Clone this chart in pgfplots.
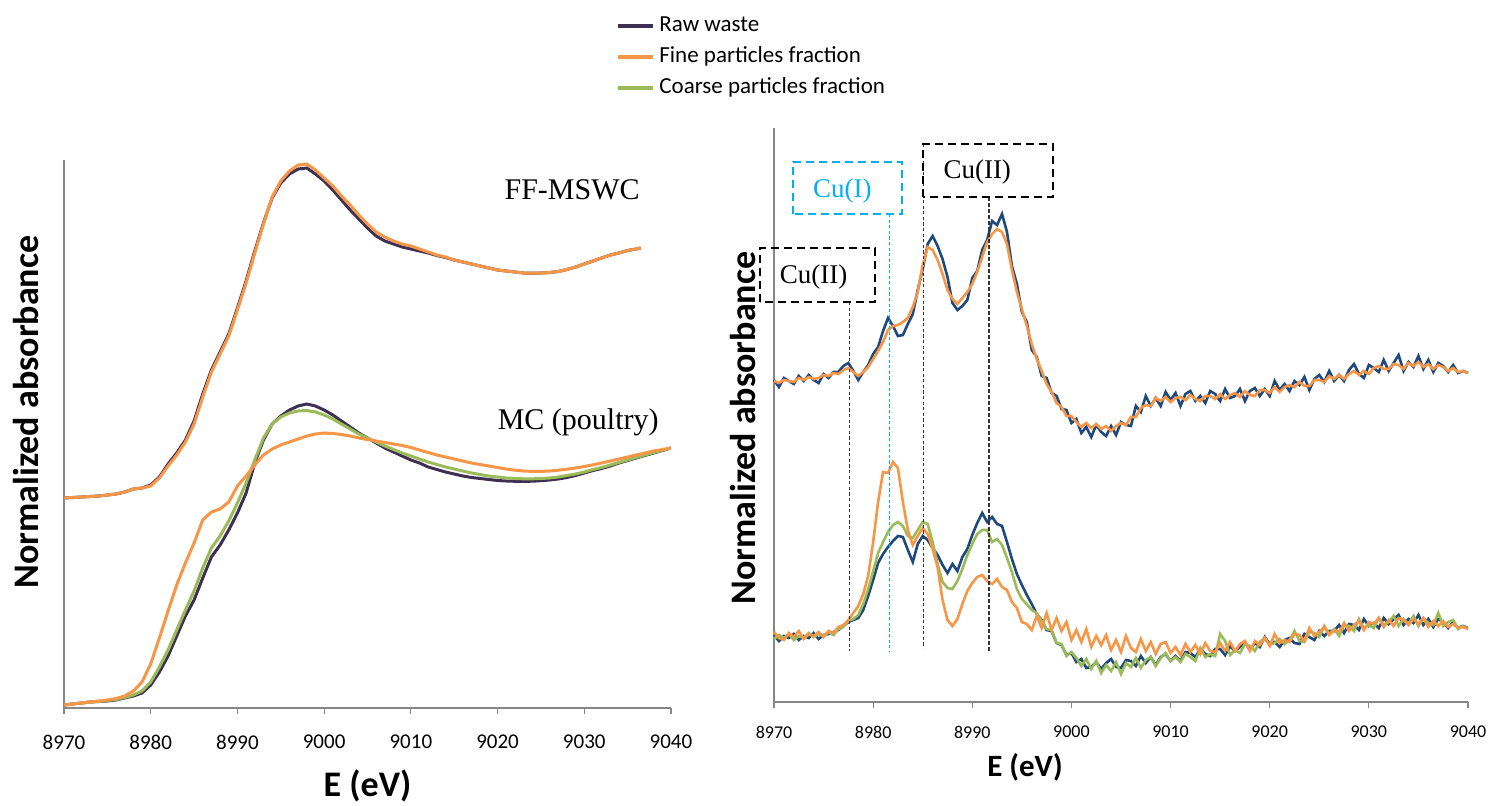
\documentclass[border=0pt]{standalone}
\usepackage{fontspec}
\setmainfont{Carlito}
\newfontfamily\tnr{Liberation Serif}
\usepackage{pgfplots}
\pgfplotsset{compat=1.18}
\usepackage{pgfplotstable}

\definecolor{rawL}{RGB}{62,48,83}
\definecolor{rawR}{RGB}{31,73,125}
\definecolor{fine}{RGB}{247,150,70}
\definecolor{coarse}{RGB}{155,187,89}
\definecolor{cuone}{RGB}{0,176,240}
\definecolor{axgray}{RGB}{134,134,134}

% left panel: normalized XANES (y in picture units)
\pgfplotstableread{
E FFR FFF MCR MCF MCC
8970 210 210 3 3 3
8971 210.5 210.5 4 4 4
8972 211 211 5 5 5
8973 211.5 211.5 6 6 6
8974 212 212 6.5 7 6.5
8975 213 213 7 8 7.5
8976 214 214 8 9.5 8.5
8977 216 216 10 12 10.5
8978 219 219 12 17 13
8979 220 220 15 26 17
8980 223 222 23 44 26
8981 231 230 36 70 41
8982 244 242 52 97 58
8983 255 253 72 123 78
8984 268 266 92 145 98
8985 287 284 108 165 117
8986 314 311 130 188 140
8987 338 336 151 196 160
8988 356 354 163 199 172
8989 374 372 178 206 187
8990 400 398 195 222 205
8991 427 425 215 232 225
8992 457 455 245 243 248
8993 485 484 268 253 270
8994 510 511 284 259 284
8995 525 527 292 263 291
8996 534 537 298 266 295
8997 539 543 302 269 297
8998 540 544 304 272 297.5
8999 534 538 302 274 296
9000 527 530 298 275 293
9001 518 522 293 274.5 289
9002 508 512 287 273.5 284
9003 498 503 281 272 279
9004 489 493 275 270 274
9005 480 484 270 268.5 270
9006 472 476 265 267 266
9007 467 471 260 265.5 262
9008 464 467 256 264 258.5
9009 461 464 252 262.5 255
9010 459 462 248 260.5 252
9011 457 459 245 258 249
9012 455 456 241 255.5 246
9013 452.5 453 238.5 253 243.5
9014 450.5 451 236 251 241
9015 448 448 234 249 239
9016 446 446 232 247 237
9017 444 444 230.5 245 235
9018 442 442 229.5 243.5 233.5
9019 440 440 228.5 242 232
9020 438 438 227.5 240.5 231
9021 437 437 227 239 230
9022 436 436 226.7 237.8 229.5
9023 435 435 226.6 237 229.2
9024 434.8 434.8 226.8 236.6 229.2
9025 435 435 227.3 236.6 229.5
9026 435.5 435.5 228 237 230
9027 436.5 436.5 229 237.8 231
9028 438.5 438.5 230.5 238.8 232.5
9029 441 441 232.5 240 234
9030 444 444 235 241.5 236
9031 447 447 237.5 243.2 238.5
9032 450 450 239.5 245 240.5
9033 453 453 242 247 243
9034 455 455 245 249 245.5
9035 457.5 457.5 247.5 251 248
9036 459 459 250 253 250.5
9036.5 460 460 251.3 254 251.7
9037 nan nan 252.6 255 253
9038 nan nan 255 257 255.5
9039 nan nan 257.5 258.5 257.7
9040 nan nan 260 260 260
}\xanes

% right panel: first derivative (y in picture units)
\pgfplotstableread{
E UR UF LR LF LC
8970.0 322 321 67 70 63
8970.5 315 319 61 64 67
8971.0 324 322 66 62 64
8971.5 321 321 64 69 68
8972.0 318 320 68 65 62
8972.5 326 324 62 71 66
8973.0 321 322 66 63 64
8973.5 327 325 64 68 69
8974.0 322 323 69 66 65
8974.5 319 324 63 70 68
8975.0 328 327 67 65 66
8975.5 324 326 68 71 70
8976.0 330 329 70 69 67
8976.5 330 328 72 75 73
8977.0 336 332 76 77 75
8977.5 339 334 80 82 81
8978.0 331 330 82 89 83
8978.5 322 326 84 96 87
8979.0 330 330 92 108 98
8979.5 337 335 106 126 113
8980.0 348 343 122 160 131
8980.5 355 351 139 200 149
8981.0 371 360 148 230 160
8981.5 384 372 155 229 170
8982.0 376 376 161 240 177
8982.5 366 377 166 234 180
8983.0 367 380 165 200 176
8983.5 378 384 152 172 166
8984.0 388 395 140 157 164
8984.5 412 410 158 166 172
8985.0 433 437 166 174 180
8985.5 458 455 162 168 178
8986.0 466 452 154 153 160
8986.5 456 442 147 135 138
8987.0 443 428 137 102 120
8987.5 425 412 129 82 114
8988.0 399 403 138 76 113
8988.5 392 398 131 83 121
8989.0 396 404 145 98 133
8989.5 402 410 153 111 147
8990.0 424 418 167 119 158
8990.5 431 430 179 125 168
8991.0 452 445 189 127 172
8991.5 462 460 180 121 172
8992.0 481 468 185 118 160
8992.5 477 473 178 123 163
8993.0 488 470 176 115 157
8993.5 470 458 160 112 144
8994.0 436 432 143 100 130
8994.5 418 410 128 94 113
8995.0 390 393 117 80 103
8995.5 380 376 107 78 98
8996.0 352 358 98 72 92
8996.5 345 343 88 86 89
8997.0 326 331 82 74 81
8997.5 324 318 72 89 73
8998.0 309 310 71 72 72
8998.5 306 299 59 84 59
8999.0 293 295 57 71 58
8999.5 292 286 47 80 46
9000.0 279 286 49 62 50
9000.5 283 280 40 72 44
9001.0 269 275 43 60 36
9001.5 275 279 34 73 43
9002.0 265 274 35 55 33
9002.5 277 278 40 66 41
9003.0 270 273 33 57 29
9003.5 266 276 39 67 37
9004.0 276 271 43 52 31
9004.5 267 276 35 62 40
9005.0 280 279 34 50 28
9005.5 277 277 42 66 39
9006.0 276 285 41 54 35
9006.5 296 285 36 50 44
9007.0 290 294 46 63 34
9007.5 306 297 39 51 42
9008.0 296 296 45 60 45
9008.5 304 304 37 48 36
9009.0 296 301 45 58 44
9009.5 310 305 48 60 49
9010.0 302 300 41 49 41
9010.5 309 304 46 55 45
9011.0 296 305 41 47 40
9011.5 308 302 50 58 48
9012.0 311 307 49 50 45
9012.5 301 303 45 57 41
9013.0 306 301 53 48 54
9013.5 299 306 48 59 45
9014.0 311 306 46 51 48
9014.5 308 303 53 50 46
9015.0 301 308 53 59 68
9015.5 313 303 47 51 61
9016.0 304 307 56 60 47
9016.5 306 309 51 51 52
9017.0 313 305 55 58 49
9017.5 301 311 60 61 58
9018.0 311 307 52 51 56
9018.5 314 306 59 61 51
9019.0 306 312 55 57 60
9019.5 313 312 65 64 64
9020.0 306 309 58 56 57
9020.5 321 315 60 68 59
9021.0 312 310 55 59 63
9021.5 318 315 62 62 58
9022.0 311 317 64 60 62
9022.5 321 315 59 68 71
9023.0 317 320 58 67 61
9023.5 325 316 68 61 60
9024.0 312 316 65 74 70
9024.5 323 322 62 66 69
9025.0 327 322 71 70 65
9025.5 320 320 66 75 76
9026.0 331 326 71 67 68
9026.5 321 323 71 72 73
9027.0 327 327 77 70 66
9027.5 321 323 69 79 77
9028.0 332 328 78 71 76
9028.5 338 331 77 77 71
9029.0 328 327 72 81 83
9029.5 324 331 83 72 74
9030.0 337 328 76 80 77
9030.5 334 334 79 78 74
9031.0 330 336 74 84 84
9031.5 342 333 84 75 77
9032.0 331 333 78 82 80
9032.5 339 338 83 76 86
9033.0 347 337 87 84 76
9033.5 331 333 77 82 83
9034.0 340 339 83 77 78
9034.5 335 336 79 83 86
9035.0 346 340 87 78 76
9035.5 333 335 77 84 84
9036.0 342 338 83 75 79
9036.5 330 333 75 81 77
9037.0 339 337 83 76 89
9037.5 336 335 80 81 76
9038.0 330 331 74 75 80
9038.5 337 334 80 78 82
9039.0 329 330 74 74 73
9039.5 331 331 76 75 76
9040.0 329 329 74 73 73
}\deriv

\pgfplotsset{
  panel/.style={
    scale only axis,
    xmin=8970, xmax=9040, ymin=0,
    axis lines*=left,
    axis line style={draw=axgray, line width=0.6pt},
    xtick={8970,8980,...,9040},
    xticklabels={8970,8980,8990,9000,9010,9020,9030,9040},
    ytick=\empty,
    tick align=outside,
    major tick length=3pt,
    tick style={draw=axgray, line width=0.6pt},
    xticklabel style={anchor=center},
  },
}

\begin{document}
\begin{tikzpicture}
\useasboundingbox (-32pt,-48.5pt) rectangle (713pt,354pt);

\begin{axis}[panel,
  at={(0pt,0pt)},
  width=303.5pt, height=274pt, ymax=548,
  xticklabel style={font=\fontsize{10.5}{12}\selectfont, yshift=-14pt},
  xlabel={\bfseries E (eV)},
  xlabel style={font=\fontsize{18}{20}\selectfont, at={(rel axis cs:0.5,0)}, anchor=center, yshift=-39pt},
  ylabel={\bfseries Normalized absorbance},
  ylabel style={font=\fontsize{18}{20}\selectfont, at={(rel axis cs:0,0.54)}, anchor=center, yshift=19pt},
  legend style={at={(rel axis cs:0.9094,1.188)}, anchor=west, draw=none, fill=none,
    font=\fontsize{11.5}{13}\selectfont, inner sep=0pt, row sep=5pt,
    nodes={inner sep=0pt, text height=8pt, text depth=2.5pt},
    /tikz/every odd column/.append style={column sep=2pt}},
  legend cell align=left,
  legend image code/.code={\draw[#1, line width=2pt] (0pt,0pt) -- (17.5pt,0pt);},
]
\addlegendimage{rawL}
\addlegendimage{fine}
\addlegendimage{coarse}
\legend{Raw waste, Fine particles fraction, Coarse particles fraction}
\addplot[rawL, line width=1.5pt, forget plot] table[x=E, y=FFR] {\xanes};
\addplot[fine, line width=1.5pt, forget plot] table[x=E, y=FFF] {\xanes};
\addplot[rawL, line width=1.5pt, forget plot] table[x=E, y=MCR] {\xanes};
\addplot[coarse, line width=1.5pt, forget plot] table[x=E, y=MCC] {\xanes};
\addplot[fine, line width=1.5pt, forget plot] table[x=E, y=MCF] {\xanes};
\node[font=\tnr\fontsize{15}{18}\selectfont] at (axis cs:9028.6,518) {FF-MSWC};
\node[font=\tnr\fontsize{15}{18}\selectfont] at (axis cs:9029.3,286) {MC (poultry)};
\end{axis}

\begin{axis}[panel,
  at={(355pt,3pt)},
  width=347pt, height=287pt, ymax=574,
  clip=false,
  xticklabel style={font=\fontsize{9}{11}\selectfont, yshift=-12pt},
  xlabel={\bfseries E (eV)},
  xlabel style={font=\fontsize{15.5}{18}\selectfont, at={(rel axis cs:0.3617,0)}, anchor=center, yshift=-32.5pt},
  ylabel={\bfseries Normalized absorbance},
  ylabel style={font=\fontsize{18}{20}\selectfont, at={(rel axis cs:0,0.477)}, anchor=center, yshift=15.5pt},
]
\addplot[rawR, line width=1.3pt] table[x=E, y=UR] {\deriv};
\addplot[fine, line width=1.3pt] table[x=E, y=UF] {\deriv};
\addplot[rawR, line width=1.3pt] table[x=E, y=LR] {\deriv};
\addplot[coarse, line width=1.3pt] table[x=E, y=LC] {\deriv};
\addplot[fine, line width=1.3pt] table[x=E, y=LF] {\deriv};
% reference energies
\draw[black!80, line width=0.5pt, dash pattern=on 1.6pt off 1.2pt] (axis cs:8977.6,400) -- (axis cs:8977.6,51);
\draw[cuone, line width=0.5pt, dash pattern=on 1.6pt off 1.2pt] (axis cs:8981.6,488) -- (axis cs:8981.6,51);
\draw[black!80, line width=0.5pt, dash pattern=on 1.6pt off 1.2pt] (axis cs:8985.05,558) -- (axis cs:8985.05,54);
\draw[black!80, line width=0.7pt, dash pattern=on 1.8pt off 1.2pt] (axis cs:8991.7,505) -- (axis cs:8991.7,51);
% boxes
\draw[black, line width=1pt, dash pattern=on 4pt off 2.5pt] (axis cs:8968.59,400) rectangle (axis cs:8980.19,454);
\node[font=\tnr\fontsize{13.5}{16}\selectfont] at (axis cs:8974.0,425) {Cu(II)};
\draw[cuone, line width=1pt, dash pattern=on 4pt off 2.5pt] (axis cs:8971.92,488) rectangle (axis cs:8982.91,540);
\node[font=\tnr\fontsize{13.5}{16}\selectfont, text=cuone] at (axis cs:8976.9,511) {Cu(I)};
\draw[black, line width=1pt, dash pattern=on 4pt off 2.5pt] (axis cs:8985.05,505) rectangle (axis cs:8998.14,558);
\node[font=\tnr\fontsize{13.5}{16}\selectfont] at (axis cs:8990.5,530) {Cu(II)};
\end{axis}
\end{tikzpicture}
\end{document}
